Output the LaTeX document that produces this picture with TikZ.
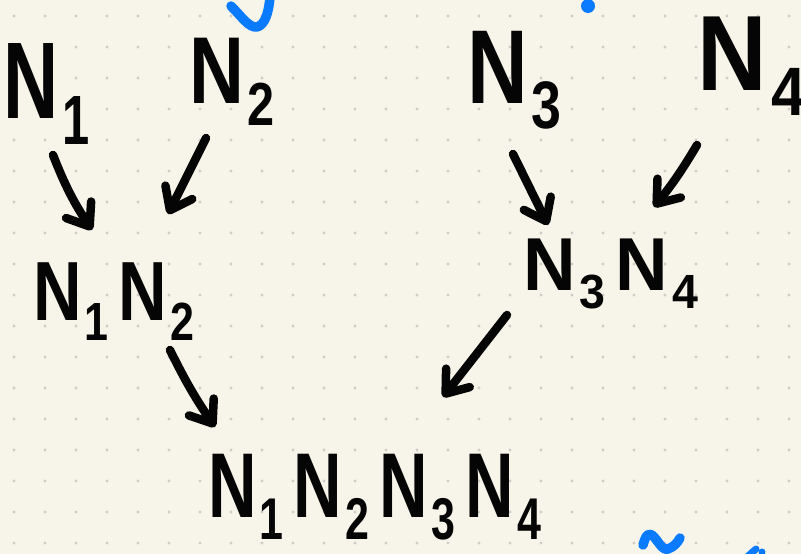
\documentclass[tikz,border=0pt]{standalone}
\usepackage{fontspec}
\setmainfont{Liberation Sans}
\usetikzlibrary{arrows.meta}
\definecolor{paper}{HTML}{F7F5EA}
\definecolor{griddot}{HTML}{CFCDC6}
\definecolor{ink}{HTML}{050505}
\definecolor{penblue}{HTML}{0A7BFF}
% N with a lowered subscript digit
\newcommand{\Nd}[1]{N\kern0.05em\raisebox{-0.24em}{\scalebox{0.64}{#1}}\kern0.15em}
% label text: font size, horizontal squeeze, content
\newcommand{\lbl}[3]{\scalebox{#2}[1]{\fontsize{#1}{#1}\selectfont\bfseries #3}}
\begin{document}
\begin{tikzpicture}[x=1pt,y=-1pt,
  hand/.style={inner sep=0pt, outer sep=0pt, anchor=base west, text=ink},
  pen/.style={draw=ink, line width=8.5pt, line cap=round, line join=round,
    -{Straight Barb[round, length=20pt, width=30pt]}},
  bluepen/.style={draw=penblue, line width=9.5pt, line cap=round, line join=round}]
% paper and dot grid
\useasboundingbox (0,0) rectangle (801,554);
\fill[paper] (0,0) rectangle (801,554);
\foreach \i in {0,...,25}{
  \foreach \j in {0,...,17}{
    \fill[griddot] (14+31*\i,16+31*\j) circle (1.6pt);
  }
}
% stray blue pen marks
\draw[bluepen] (231,6) .. controls (242,17) and (249,28) .. (257,27)
  .. controls (265,25) and (269,12) .. (270,-4);
\fill[penblue] (588,6) circle (7pt);
\draw[bluepen] (643,545) .. controls (645,538) and (647,532) .. (652,535)
  .. controls (658,540) and (662,551) .. (668,549)
  .. controls (674,547) and (678,542) .. (680,538);
\draw[bluepen, line width=7pt] (747,557) -- (756,549);
\fill[penblue] (762,552) circle (3.5pt);
% labels
\node[hand] (n1) at (4,118) {\lbl{109}{0.7}{\Nd{1}}};
\node[hand] (n2) at (189,103) {\lbl{95}{0.8}{\Nd{2}}};
\node[hand] (n3) at (467,103) {\lbl{105}{0.8}{\Nd{3}}};
\node[hand] (n4) at (697,90) {\lbl{107}{0.9}{\Nd{4}}};
\node[hand] (n12) at (33,320) {\lbl{84}{0.8}{\Nd{1}\Nd{2}}};
\node[hand] (n34) at (523,290) {\lbl{75}{0.97}{\Nd{3}\Nd{4}}};
\node[hand] (n1234) at (208,517) {\lbl{92}{0.73}{\Nd{1}\Nd{2}\Nd{3}\Nd{4}}};
% arrow ends
\coordinate (a1) at (53,155);  \coordinate (b1) at (92,230);
\coordinate (a2) at (206,138); \coordinate (b2) at (168,214);
\coordinate (a3) at (513,154); \coordinate (b3) at (548,225);
\coordinate (a4) at (697,145); \coordinate (b4) at (654,207);
\coordinate (a5) at (170,350); \coordinate (b5) at (215,427);
\coordinate (a6) at (507,315); \coordinate (b6) at (443,397);
\draw[pen] (a1) to[bend right=6] (b1);
\draw[pen] (a2) -- (b2);
\draw[pen] (a3) -- (b3);
\draw[pen] (a4) to[bend left=4] (b4);
\draw[pen] (a5) to[bend right=4] (b5);
\draw[pen] (a6) -- (b6);
\end{tikzpicture}
\end{document}
